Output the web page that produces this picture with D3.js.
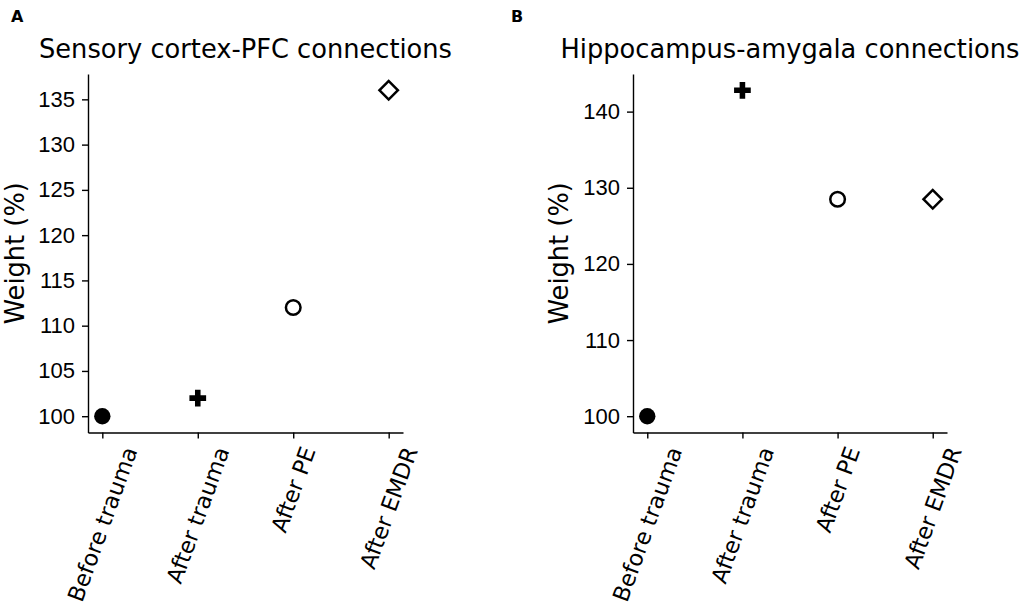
<!DOCTYPE html>
<html>
<head>
<meta charset="utf-8">
<script src="https://cdn.jsdelivr.net/npm/d3@7"></script>
<style>
  body { margin: 0; background: #fff; }
  svg { font-family: "DejaVu Sans", sans-serif; }
</style>
</head>
<body>
<div id="chart"></div>
<script>
// data
const categories = ["Before trauma", "After trauma", "After PE", "After EMDR"];
const sensoryWeights = [100, 102, 112, 136];
const hippoWeights = [100, 142.8, 128.5, 128.5];
const sensoryTicks = [100, 105, 110, 115, 120, 125, 130, 135];
const hippoTicks = [100, 110, 120, 130, 140];

const width = 1021, height = 610;

const svg = d3.select("#chart")
    .append("svg")
    .attr("width", width)
    .attr("height", height);

const panels = [
    {letter: "A", title: "Sensory cortex-PFC connections", values: sensoryWeights, ticks: sensoryTicks,
        left: 88, right: 403, ylabelX: 24, letterX: 11},
    {letter: "B", title: "Hippocampus-amygala connections", values: hippoWeights, ticks: hippoTicks,
        left: 633, right: 947, ylabelX: 568, letterX: 511}
];
const plotTop = 74, plotBottom = 432.5;
const xFont = 22.5;

panels.forEach(function (p) {
    const g = svg.append("g");

    const x = d3.scalePoint()
        .domain(categories)
        .range([p.left, p.right])
        .padding(0.15);

    // matplotlib style 5% margins
    const ext = d3.extent(p.values);
    const pad = (ext[1] - ext[0]) * 0.05;
    const y = d3.scaleLinear()
        .domain([ext[0] - pad, ext[1] + pad])
        .range([plotBottom, plotTop]);

    const yAxis = g.append("g")
        .attr("transform", `translate(${p.left},0)`)
        .call(d3.axisLeft(y).tickValues(p.ticks).tickSize(6).tickSizeOuter(0).tickPadding(7));
    yAxis.selectAll("text").style("font-size", "22px").attr("fill", "#000");

    const xAxis = g.append("g")
        .attr("transform", `translate(0,${plotBottom})`)
        .call(d3.axisBottom(x).tickSize(6).tickSizeOuter(0).tickFormat(""));

    [yAxis, xAxis].forEach(function (a) {
        a.select(".domain").attr("stroke", "#000").attr("stroke-width", 1.4);
        a.selectAll(".tick line").attr("stroke", "#000").attr("stroke-width", 1.4);
    });

    // rotated category labels, bbox centred under the tick
    categories.forEach(function (c) {
        const t = g.append("text")
            .attr("text-anchor", "middle")
            .attr("dominant-baseline", "central")
            .style("font-size", xFont + "px")
            .text(c);
        const L = t.node().getComputedTextLength();
        const half = (L * Math.sin(70 * Math.PI / 180) + xFont * 0.85 * Math.cos(70 * Math.PI / 180)) / 2;
        const cx = x(c), cy = plotBottom + 12 + half;
        t.attr("transform", `translate(${cx},${cy}) rotate(-70)`);
    });

    // markers
    const pts = g.append("g");
    p.values.forEach(function (v, i) {
        const cx = x(categories[i]), cy = y(v);
        if (i === 0) {
            pts.append("circle").attr("cx", cx).attr("cy", cy).attr("r", 8.2).attr("fill", "#000");
        } else if (i === 1) {
            pts.append("path")
                .attr("d", d3.symbol(d3.symbolCross, 155)())
                .attr("transform", `translate(${cx},${cy})`)
                .attr("fill", "#000");
        } else if (i === 2) {
            pts.append("circle").attr("cx", cx).attr("cy", cy).attr("r", 7.3)
                .attr("fill", "none").attr("stroke", "#000").attr("stroke-width", 2.5);
        } else {
            pts.append("path")
                .attr("d", d3.symbol(d3.symbolSquare, 170)())
                .attr("transform", `translate(${cx},${cy}) rotate(45)`)
                .attr("fill", "none").attr("stroke", "#000").attr("stroke-width", 2.5);
        }
    });

    g.append("text")
        .attr("x", (p.left + p.right) / 2)
        .attr("y", 58)
        .attr("text-anchor", "middle")
        .style("font-size", "25.7px")
        .text(p.title);

    g.append("text")
        .attr("transform", `translate(${p.ylabelX},${(plotTop + plotBottom) / 2}) rotate(-90)`)
        .attr("text-anchor", "middle")
        .style("font-size", "25.7px")
        .text("Weight (%)");

    g.append("text")
        .attr("x", p.letterX)
        .attr("y", 22)
        .style("font-size", "16px")
        .style("font-weight", "bold")
        .text(p.letter);
});
</script>
</body>
</html>
